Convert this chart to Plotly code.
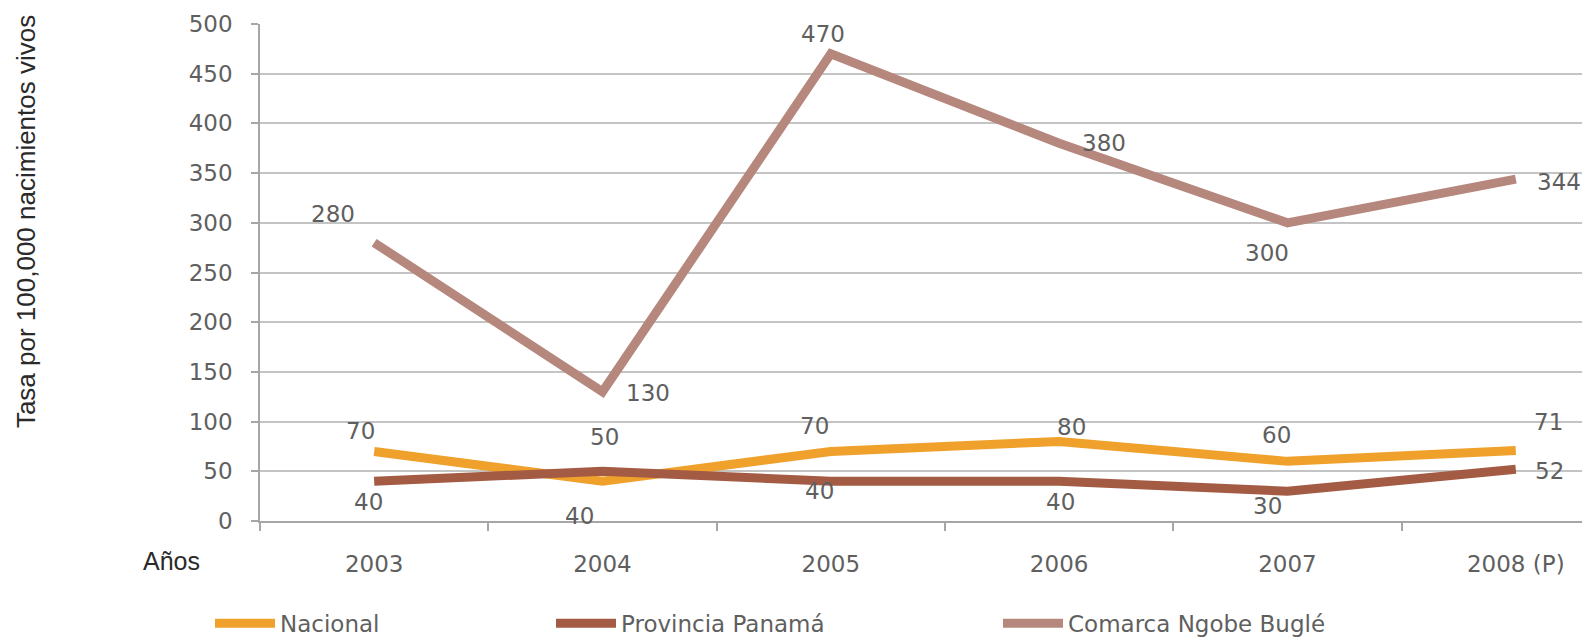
import plotly.graph_objects as go

years = ["2003", "2004", "2005", "2006", "2007", "2008 (P)"]
nacional = [70, 40, 70, 80, 60, 71]
provincia = [40, 50, 40, 40, 30, 52]
comarca = [280, 130, 470, 380, 300, 344]
y_ticks = [0, 50, 100, 150, 200, 250, 300, 350, 400, 450, 500]

series_names = ["Nacional", "Provincia Panamá", "Comarca Ngobe Buglé"]
series_values = [nacional, provincia, comarca]
series_colors = ["#EFA12C", "#A35B44", "#B6877C"]

# label offsets in px (style only): (xshift, yshift)
label_offsets = [
    [(-14, 20), (-23, -35), (-16, 25), (12, 14), (-11, 26), (33, 28)],
    [(-6, -21), (2, 34), (-11, -10), (1, -21), (-20, -15), (34, -2)],
    [(-41, 29), (46, -1), (-8, 20), (45, 0), (-20, -30), (43, -3)],
]

W, H = 1582, 638
L, R, T, B = 260, 0, 24, 117.3
pw, ph = W - L - R, H - T - B

def px_x(px):
    return (px - L) / pw

def px_y(py):
    return (H - B - py) / ph

tick_font = dict(family="DejaVu Sans", size=23, color="#5F5F5F")

fig = go.Figure()
legend_names = ["legend", "legend2", "legend3"]
for name, vals, col, lg in zip(series_names, series_values, series_colors, legend_names):
    fig.add_trace(go.Scatter(
        x=years, y=vals, name=name, mode="lines",
        line=dict(color=col, width=9),
        legend=lg, hoverinfo="x+y+name",
    ))

annotations = []
for vals, offs in zip(series_values, label_offsets):
    for i, (yv, (dx, dy)) in enumerate(zip(vals, offs)):
        annotations.append(dict(
            x=i, y=yv, xref="x", yref="y", text=str(yv), showarrow=False,
            xshift=dx, yshift=dy, font=tick_font,
        ))

annotations.append(dict(
    x=px_x(26), y=px_y(222), xref="paper", yref="paper",
    text="Tasa por 100,000 nacimientos vivos", textangle=-90, showarrow=False,
    font=dict(family="Liberation Sans", size=26, color="#2A2A2A"),
    xanchor="center", yanchor="middle",
))
annotations.append(dict(
    x=px_x(171), y=px_y(561), xref="paper", yref="paper",
    text="Años", showarrow=False,
    font=dict(family="Liberation Sans", size=25, color="#2A2A2A"),
    xanchor="center", yanchor="middle",
))

legend_font = dict(family="DejaVu Sans", size=23, color="#5F5F5F")
legend_px = [210, 551, 998]
legend_cfg = {}
for lg, lx in zip(legend_names, legend_px):
    legend_cfg[lg] = dict(
        x=px_x(lx), y=px_y(623), xanchor="left", yanchor="middle",
        orientation="h", font=legend_font, bgcolor="rgba(0,0,0,0)",
        itemwidth=60,
    )

fig.update_layout(
    width=W, height=H,
    margin=dict(l=L, r=R, t=T, b=B, pad=0, autoexpand=False),
    paper_bgcolor="white", plot_bgcolor="white",
    showlegend=True,
    annotations=annotations,
    **legend_cfg,
)

fig.update_xaxes(
    type="category", range=[-0.5, 5.29], tickson="boundaries",
    showgrid=False, showline=True, linecolor="#A6A6A6", linewidth=1.5,
    ticks="outside", ticklen=8, tickwidth=1.5, tickcolor="#A6A6A6",
    tickfont=tick_font, ticklabelstandoff=22, zeroline=False, automargin=False,
)
fig.update_yaxes(
    range=[0, 500], tickvals=y_ticks, ticktext=[str(v) for v in y_ticks],
    showgrid=True, gridcolor="#C4C4C4", gridwidth=1.5,
    showline=True, linecolor="#A6A6A6", linewidth=1.5,
    ticks="outside", ticklen=7, tickwidth=1.5, tickcolor="#A6A6A6",
    tickfont=tick_font, ticklabelstandoff=14, zeroline=False, automargin=False,
)

fig.write_html("out.html")
